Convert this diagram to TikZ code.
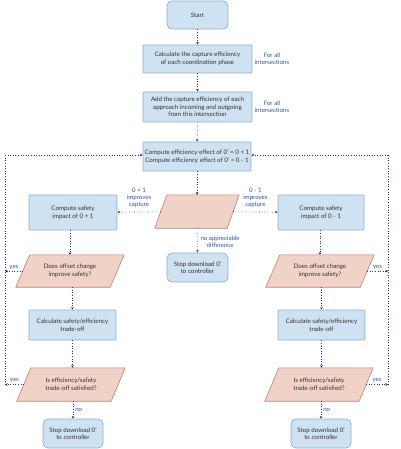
\documentclass[tikz,border=0pt]{standalone}
\usepackage{fontspec}
\setmainfont{Lato}
\usetikzlibrary{arrows.meta,calc,backgrounds}
\definecolor{boxfill}{RGB}{207,226,242}
\definecolor{boxdraw}{RGB}{140,176,210}
\definecolor{pinkfill}{RGB}{241,210,198}
\definecolor{pinkdraw}{RGB}{188,128,112}
\definecolor{txt}{RGB}{50,50,50}
\definecolor{lbl}{RGB}{50,80,165}
\definecolor{arr}{RGB}{35,55,140}
\tikzset{
  base/.style={font=\fontsize{6.2}{7.6}\selectfont, text=txt, align=center, inner sep=0pt},
  procbox/.style={base, draw=boxdraw, fill=boxfill, line width=0.7pt, rectangle, rounded corners=0.8pt},
  termbox/.style={base, draw=boxdraw, fill=boxfill, line width=0.7pt, rectangle, rounded corners=5pt},
  decbox/.style={base, rectangle},
  parafill/.style={draw=pinkdraw, fill=pinkfill, line width=0.6pt},
  lab/.style={font=\fontsize{6.1}{7.1}\selectfont, text=lbl, align=center, inner sep=0pt},
  conn/.style={draw=arr, line width=0.6pt, dotted, -{Stealth[length=2.6pt,width=2.6pt]}},
  loopline/.style={draw=arr, line width=0.6pt, dotted},
}
\newcommand{\mypara}[2]{%
  \path[parafill] ($(#1.south west)+(-#2,0)$) -- ($(#1.south east)+(-#2,0)$)
     -- ($(#1.north east)+(#2,0)$) -- ($(#1.north west)+(#2,0)$) -- cycle;}
\begin{document}
\begin{tikzpicture}[x=1pt,y=-1pt]
\useasboundingbox (0,0) rectangle (400,449);
% nodes
\node[termbox, minimum width=61, minimum height=28] (start) at (197.5,15) {Start};
\node[procbox, minimum width=109, minimum height=28] (b2) at (197.5,59) {Calculate the capture efficiency\\of each coordination phase};
\node[lab] (fa1) at (272,59) {For all\\intersections};
\node[procbox, minimum width=109, minimum height=30] (b3) at (197.5,107) {Add the capture efficiency of each\\approach incoming and outgoing\\from this intersection};
\node[lab] (fa2) at (272,107) {For all\\intersections};
\node[procbox, minimum width=108, minimum height=29] (b4) at (197,156.5) {Compute efficiency effect of 0' = 0 + 1\\Compute efficiency effect of 0' = 0 - 1};
\node[decbox, minimum width=72, minimum height=33] (d0) at (197,211.5) {};
\node[procbox, minimum width=88, minimum height=35] (s1) at (73,212.5) {Compute safety\\impact of 0 + 1};
\node[procbox, minimum width=86, minimum height=35] (s2) at (321,212.5) {Compute safety\\impact of 0 - 1};
\node[termbox, minimum width=61, minimum height=29] (stop0) at (197.5,267.5) {Stop download 0'\\to controller};
\node[decbox, minimum width=94, minimum height=32] (q1) at (70,271) {Does offset change\\improve safety?};
\node[decbox, minimum width=94, minimum height=32] (q2) at (320,271) {Does offset change\\improve safety?};
\node[procbox, minimum width=87, minimum height=30] (c1) at (72.5,325) {Calculate safety/efficiency\\trade-off};
\node[procbox, minimum width=87, minimum height=30] (c2) at (321.5,325) {Calculate safety/efficiency\\trade-off};
\node[decbox, minimum width=94, minimum height=33] (r1) at (71,384.5) {Is efficiency/safety\\trade-off satisfied?};
\node[decbox, minimum width=94, minimum height=33] (r2) at (319,384.5) {Is efficiency/safety\\trade-off satisfied?};
\node[termbox, minimum width=60, minimum height=29] (e1) at (73,433.5) {Stop download 0'\\to controller};
\node[termbox, minimum width=60, minimum height=29] (e2) at (321,433.5) {Stop download 0'\\to controller};
\begin{pgfonlayer}{background}
  \mypara{d0}{6}
  \mypara{q1}{7}
  \mypara{q2}{7}
  \mypara{r1}{7}
  \mypara{r2}{7}
\end{pgfonlayer}
% loop coordinates
\coordinate (lt) at (5,155);
\coordinate (lq) at (5,271);
\coordinate (lr) at (5,384.5);
\coordinate (rt) at (388,155);
\coordinate (rq) at (388,271);
\coordinate (rr) at (388,384.5);
% main connectors
\draw[conn] (start) -- (b2);
\draw[conn] (b2) -- (b3);
\draw[conn] (b3) -- (b4);
\draw[conn] (b4) -- (d0);
\draw[conn] (d0) -- node[lab, above=4pt] {0 + 1\\improves\\capture} (s1);
\draw[conn] (d0) -- node[lab, above=4pt] {0 - 1\\improves\\capture} (s2);
\draw[conn] (d0) -- node[lab, right=3pt, pos=0.55] {no appreciable\\difference} (stop0);
\draw[conn] (s1.south -| q1) -- (q1);
\draw[conn] (s2.south -| q2) -- (q2);
\draw[conn] (q1.south -| c1) -- (c1);
\draw[conn] (q2.south -| c2) -- (c2);
\draw[conn] (c1) -- (c1 |- r1.north);
\draw[conn] (c2) -- (c2 |- r2.north);
\draw[conn] (r1.south -| e1) -- node[lab, right=2pt] {no} (e1);
\draw[conn] (r2.south -| e2) -- node[lab, right=2pt] {no} (e2);
% yes branches
\draw[conn] (q1.west) -- node[lab, above=1.5pt] {yes} (lq);
\draw[conn] (r1.west) -- node[lab, above=1.5pt] {yes} (lr);
\draw[conn] (q2.east) -- node[lab, above=1.5pt] {yes} (rq);
\draw[conn] (r2.east) -- node[lab, above=1.5pt] {yes} (rr);
% loop lines
\draw[loopline] (lr) -- (lt);
\draw[conn] (lt) -- (b4.west |- lt);
\draw[loopline] (rr) -- (rt);
\draw[conn] (rt) -- (b4.east |- rt);
\end{tikzpicture}
\end{document}
